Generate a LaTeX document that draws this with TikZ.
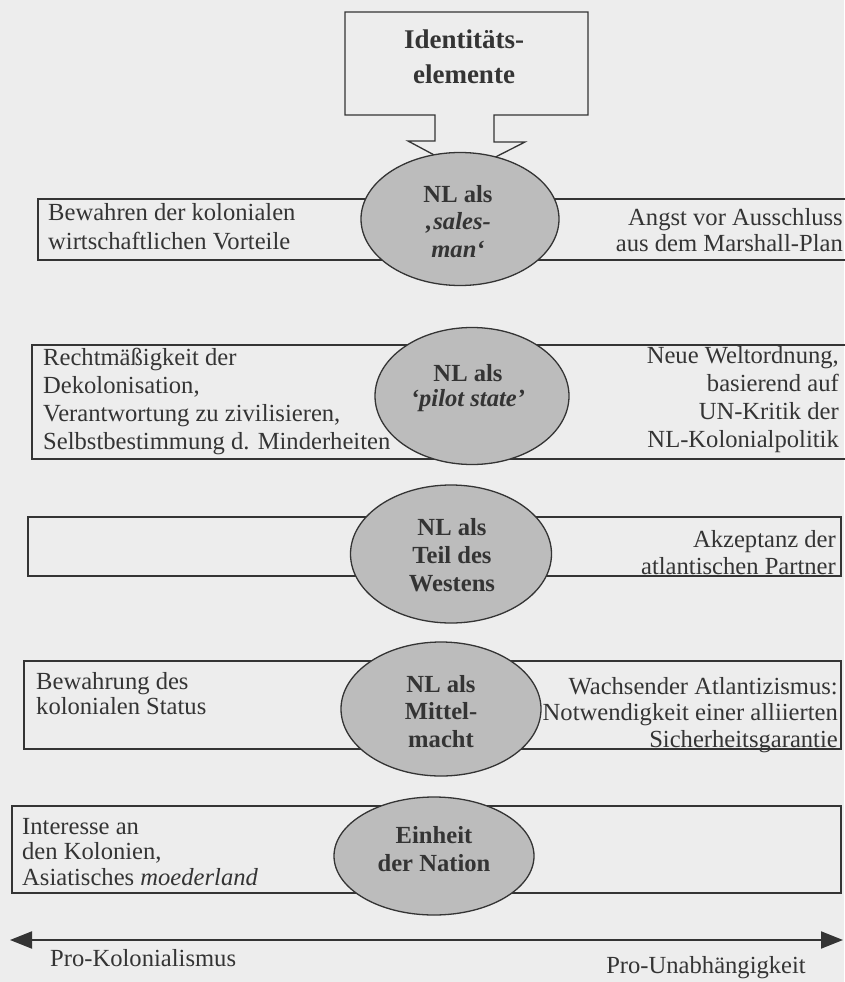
\documentclass[tikz,border=0pt]{standalone}
\usepackage{fontspec}
\setmainfont{Liberation Serif}
\usetikzlibrary{arrows.meta,shapes.geometric}
\definecolor{paper}{RGB}{237,237,237}
\definecolor{ink}{RGB}{52,52,52}
\definecolor{ellfill}{RGB}{188,188,188}
\newcommand\txtsize{\fontsize{24.6}{28}\selectfont}
\newcommand\headsize{\fontsize{27}{35}\selectfont}
\begin{document}
\begin{tikzpicture}[x=1pt,y=-1pt,
  bandbox/.style={draw=ink,line width=1.3pt},
  ident/.style={ellipse,draw=ink,fill=ellfill,line width=1.3pt,inner sep=0pt},
  identtxt/.style={anchor=north,align=center,inner sep=0pt,font=\txtsize\bfseries,text=ink},
  lefttxt/.style={anchor=north west,align=left,inner sep=0pt,font=\txtsize,text=ink},
  righttxt/.style={anchor=north east,align=right,inner sep=0pt,font=\txtsize,text=ink}]
\useasboundingbox (0,0) rectangle (844,982);
\fill[paper] (0,0) rectangle (844,982);
% bands
\draw[bandbox] (38,199) rectangle (850,260);
\draw[bandbox] (32,345) rectangle (850,459);
\draw[bandbox] (28,517) rectangle (841,576);
\draw[bandbox] (24,661) rectangle (841,749);
\draw[bandbox] (12,806) rectangle (841,893);
% callout
\coordinate (tip) at (466,172);
\draw[bandbox,line join=miter] (435,115) -- (345,115) -- (345,12) -- (588,12) -- (588,115)
  -- (494,115) -- (494,142) -- (525,142) -- (tip) -- (408,141) -- (435,141) -- cycle;
\node[anchor=north,align=center,inner sep=0pt,font=\headsize\bfseries,text=ink] (head) at (464,30)
  {Identitäts-\\elemente};
% identity ellipses
\node[ident,minimum width=198pt,minimum height=133pt] (e1) at (460,219) {};
\node[ident,minimum width=194pt,minimum height=137pt] (e2) at (472,396) {};
\node[ident,minimum width=201pt,minimum height=138pt] (e3) at (451,554) {};
\node[ident,minimum width=200pt,minimum height=134pt] (e4) at (441,709) {};
\node[ident,minimum width=200pt,minimum height=118pt] (e5) at (434,856) {};
\node[identtxt,font=\fontsize{24.6}{27.5}\selectfont\bfseries] (e1t) at (458,185)
  {NL als\\\textit{‚sales-}\\\textit{man‘}};
\node[identtxt,font=\fontsize{24.6}{25}\selectfont\bfseries] (e2t) at (468,364)
  {NL als\\\textit{‘pilot state’}};
\node[identtxt] (e3t) at (452,518) {NL als\\Teil des\\Westens};
\node[identtxt,font=\fontsize{24.6}{27.5}\selectfont\bfseries] (e4t) at (441,675)
  {NL als\\Mittel-\\macht};
\node[identtxt] (e5t) at (434,826) {Einheit\\der Nation};
% left texts
\node[lefttxt,font=\fontsize{24.6}{29}\selectfont] (l1) at (48,203)
  {Bewahren der kolonialen\\wirtschaftlichen Vorteile};
\node[lefttxt] (l2) at (43,348)
  {Rechtmäßigkeit der\\Dekolonisation,\\Verantwortung zu zivilisieren,\\Selbstbestimmung d. Minderheiten};
\node[lefttxt,font=\fontsize{24.6}{25.5}\selectfont] (l4) at (36,672)
  {Bewahrung des\\kolonialen Status};
\node[lefttxt,font=\fontsize{24.6}{25.5}\selectfont] (l5) at (22,818)
  {Interesse an\\den Kolonien,\\Asiatisches \textit{moederland}};
% right texts
\node[righttxt,font=\fontsize{24.6}{26}\selectfont] (r1) at (843,208)
  {Angst vor Ausschluss\\aus dem Marshall-Plan};
\node[righttxt] (r2) at (839,346)
  {Neue Weltordnung,\\basierend auf\\UN-Kritik der\\NL-Kolonialpolitik};
\node[righttxt,font=\fontsize{24.6}{27}\selectfont] (r3) at (836,530)
  {Akzeptanz der\\atlantischen Partner};
\node[righttxt,font=\fontsize{24.6}{26.5}\selectfont] (r4) at (838,677)
  {Wachsender Atlantizismus:\\Notwendigkeit einer alliierten\\Sicherheitsgarantie};
% axis
\coordinate (al) at (10,940);
\coordinate (ar) at (843,940);
\draw[ink,line width=2pt,{Triangle[length=22pt,width=17pt]}-{Triangle[length=22pt,width=17pt]}] (al) -- (ar);
\node[lefttxt] (pk) at (50,949) {Pro-Kolonialismus};
\node[righttxt] (pu) at (806,956) {Pro-Unabhängigkeit};
\end{tikzpicture}
\end{document}
